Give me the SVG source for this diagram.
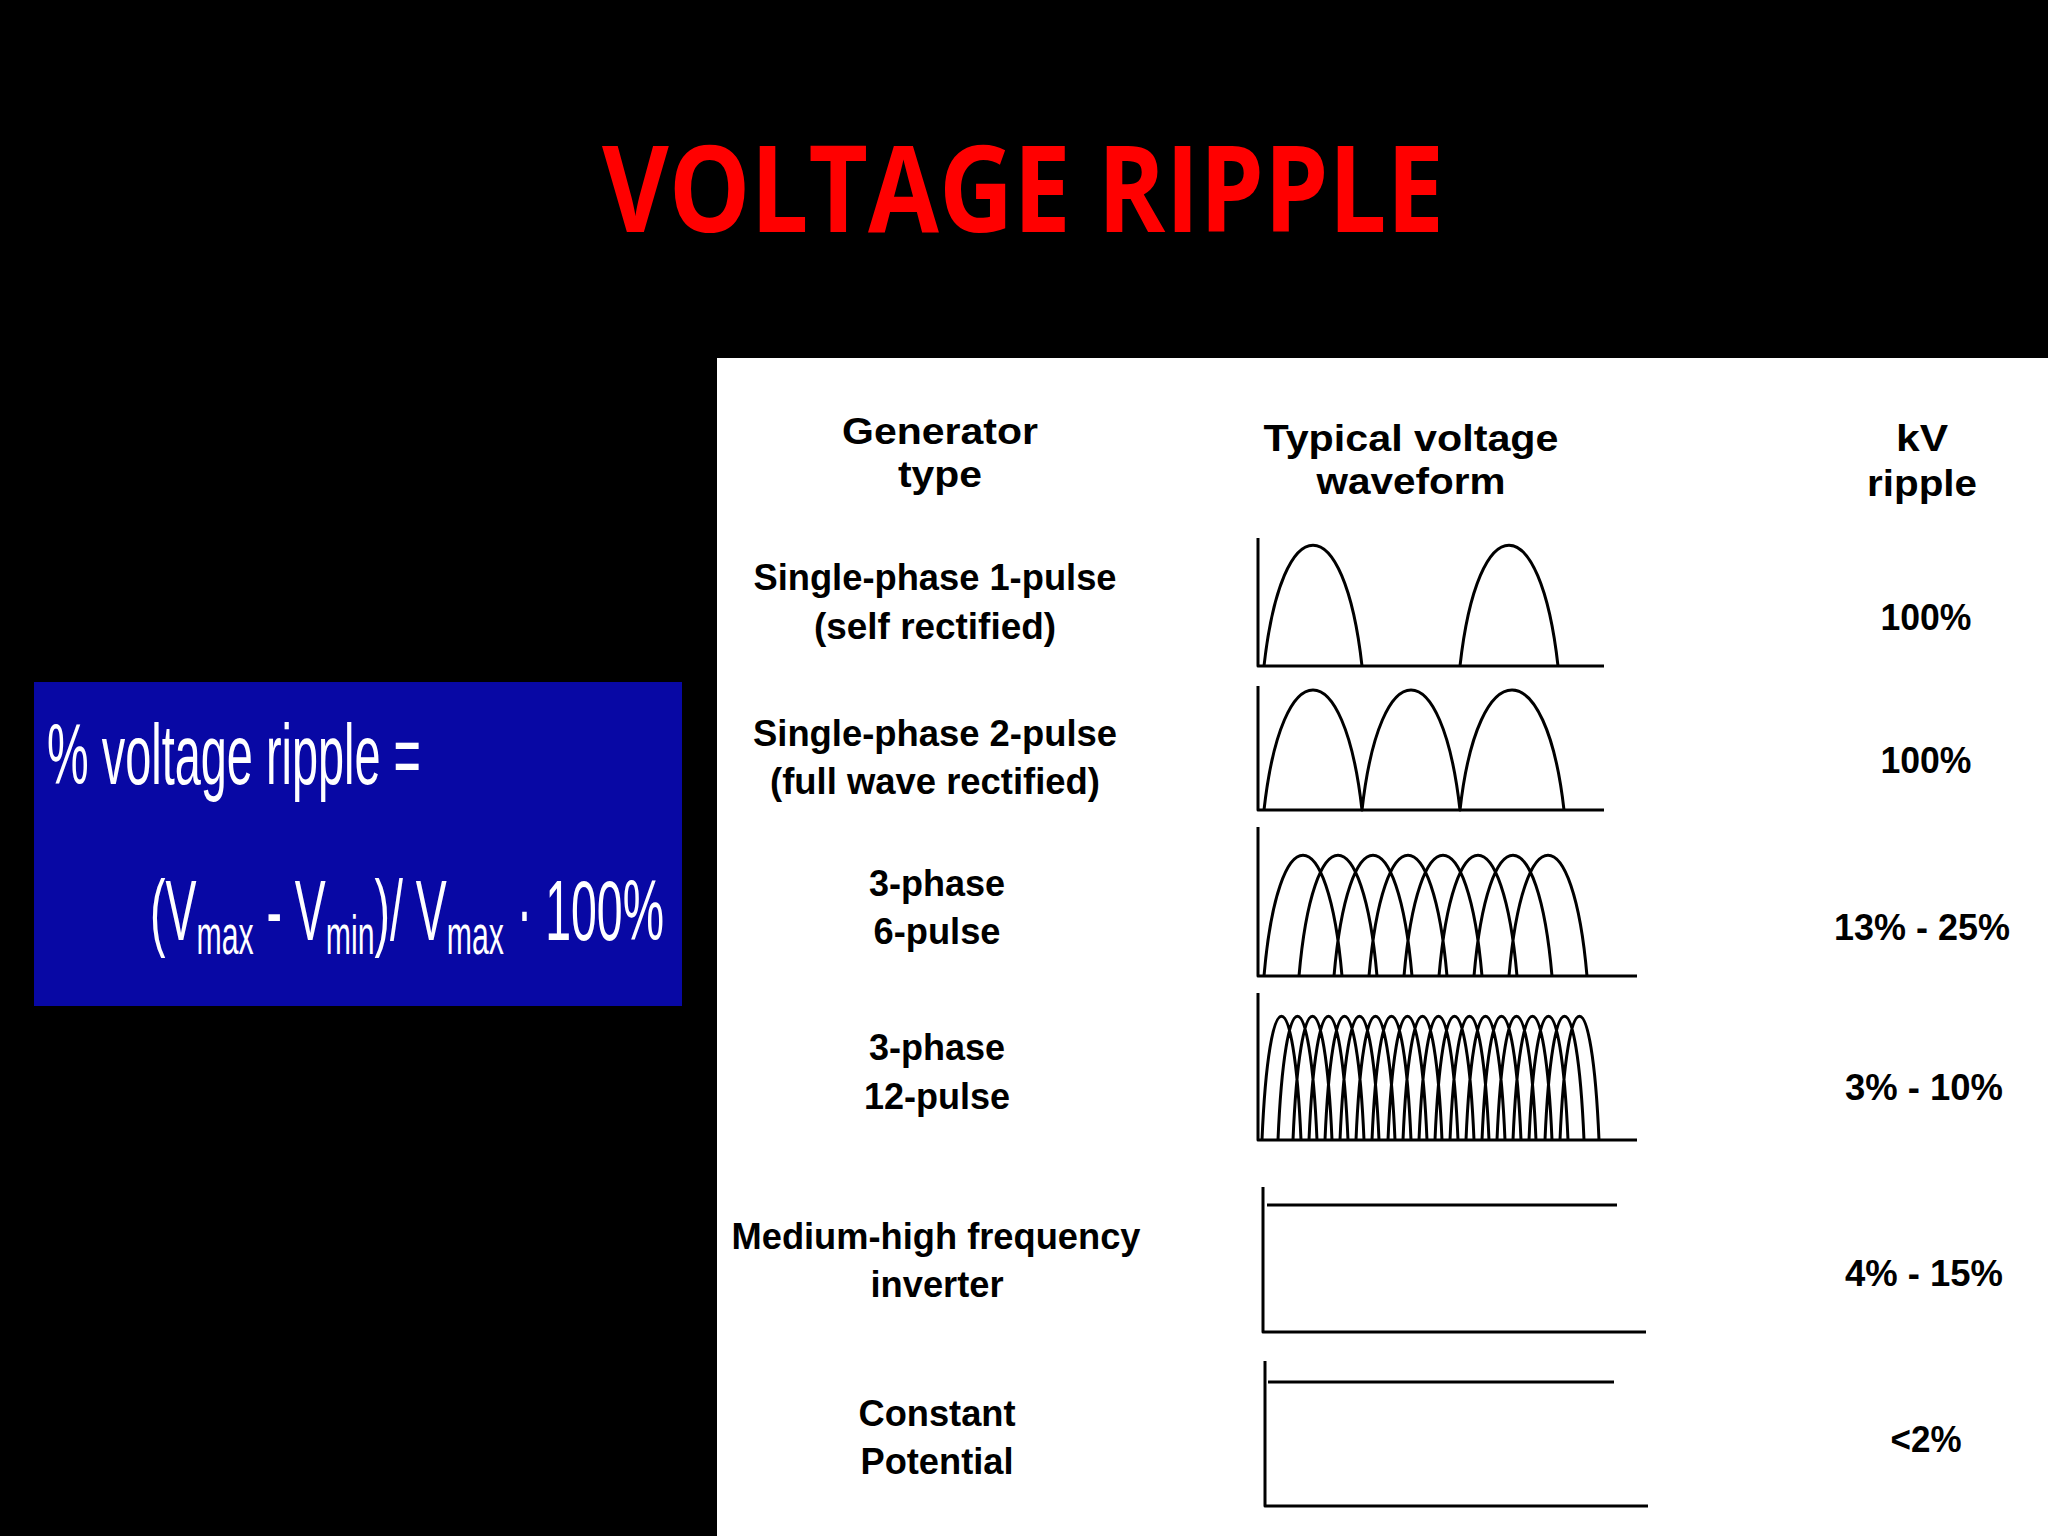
<svg xmlns="http://www.w3.org/2000/svg" width="2048" height="1536" viewBox="0 0 2048 1536">
<style>
.t{font-family:"Liberation Sans",Arial,sans-serif;font-weight:bold;font-size:36px;fill:#000;text-anchor:middle}
.w{fill:none;stroke:#000;stroke-width:3;stroke-linejoin:round}
.f{font-family:"Liberation Sans",Arial,sans-serif;fill:#fff}
</style>
<rect width="2048" height="1536" fill="#000"/>
<text x="1023" y="232" font-family="'Open Sans','Liberation Sans',sans-serif" font-weight="bold" font-size="120" fill="#f00" text-anchor="middle" textLength="842" lengthAdjust="spacingAndGlyphs">VOLTAGE RIPPLE</text>
<g id="formula">
<rect x="34" y="682" width="648" height="324" fill="#0808a4"/>
<text class="f" x="47" y="784" font-size="86" textLength="374" lengthAdjust="spacingAndGlyphs">% voltage ripple =</text>
<text class="f" x="150" y="940" font-size="86" textLength="514" lengthAdjust="spacingAndGlyphs">(V<tspan font-size="56" dy="14">max</tspan><tspan dy="-14"> - V</tspan><tspan font-size="56" dy="14">min</tspan><tspan dy="-14">)/ V</tspan><tspan font-size="56" dy="14">max</tspan><tspan dy="-14"> · 100%</tspan></text>
</g>
<g id="table">
<rect x="717" y="358" width="1331" height="1178" fill="#fff"/>
<text class="t" x="940" y="444" textLength="196" lengthAdjust="spacingAndGlyphs">Generator</text>
<text class="t" x="940" y="487" textLength="84" lengthAdjust="spacingAndGlyphs">type</text>
<text class="t" x="1411" y="451" textLength="295" lengthAdjust="spacingAndGlyphs">Typical voltage</text>
<text class="t" x="1411" y="494" textLength="189" lengthAdjust="spacingAndGlyphs">waveform</text>
<text class="t" x="1922" y="451" textLength="52" lengthAdjust="spacingAndGlyphs">kV</text>
<text class="t" x="1922" y="496" textLength="110" lengthAdjust="spacingAndGlyphs">ripple</text>
<text class="t" x="935" y="590" textLength="363" lengthAdjust="spacingAndGlyphs">Single-phase 1-pulse</text>
<text class="t" x="935" y="639" textLength="242" lengthAdjust="spacingAndGlyphs">(self rectified)</text>
<text class="t" x="935" y="746" textLength="364" lengthAdjust="spacingAndGlyphs">Single-phase 2-pulse</text>
<text class="t" x="935" y="794" textLength="330" lengthAdjust="spacingAndGlyphs">(full wave rectified)</text>
<text class="t" x="937" y="896" textLength="136" lengthAdjust="spacingAndGlyphs">3-phase</text>
<text class="t" x="937" y="944" textLength="127" lengthAdjust="spacingAndGlyphs">6-pulse</text>
<text class="t" x="937" y="1060" textLength="136" lengthAdjust="spacingAndGlyphs">3-phase</text>
<text class="t" x="937" y="1109" textLength="146" lengthAdjust="spacingAndGlyphs">12-pulse</text>
<text class="t" x="936" y="1249" textLength="409" lengthAdjust="spacingAndGlyphs">Medium-high frequency</text>
<text class="t" x="937" y="1297" textLength="133" lengthAdjust="spacingAndGlyphs">inverter</text>
<text class="t" x="937" y="1426" textLength="157" lengthAdjust="spacingAndGlyphs">Constant</text>
<text class="t" x="937" y="1474" textLength="153" lengthAdjust="spacingAndGlyphs">Potential</text>
<text class="t" x="1926" y="630" textLength="91" lengthAdjust="spacingAndGlyphs">100%</text>
<text class="t" x="1926" y="773" textLength="91" lengthAdjust="spacingAndGlyphs">100%</text>
<text class="t" x="1922" y="940" textLength="176" lengthAdjust="spacingAndGlyphs">13% - 25%</text>
<text class="t" x="1924" y="1100" textLength="158" lengthAdjust="spacingAndGlyphs">3% - 10%</text>
<text class="t" x="1924" y="1286" textLength="158" lengthAdjust="spacingAndGlyphs">4% - 15%</text>
<text class="t" x="1926" y="1452" textLength="71" lengthAdjust="spacingAndGlyphs">&lt;2%</text>
</g>
<g id="waveforms">
<path class="w" d="M1258 538V666H1604"/>
<path class="w" d="M1264 666C1282 505 1344 505 1362 666M1460 666C1478 505 1540 505 1558 666"/>
<path class="w" d="M1258 686V810H1604"/>
<path class="w" d="M1264 810C1282 650 1344 650 1362 810C1380 650 1442 650 1460 810C1478 650 1546 650 1564 810"/>
<path class="w" d="M1258 827V976H1637"/>
<path class="w" d="M1264 976C1278 815 1328 815 1342 976M1299 976C1313 815 1363 815 1377 976M1334 976C1348 815 1398 815 1412 976M1369 976C1383 815 1433 815 1447 976M1404 976C1418 815 1468 815 1482 976M1439 976C1453 815 1503 815 1517 976M1474 976C1488 815 1538 815 1552 976M1509 976C1523 815 1573 815 1587 976"/>
<path class="w" d="M1258 993V1140H1637"/>
<path class="w" stroke-width="2.5" d="M1262 1140C1269 975 1294 975 1301 1140M1278 1140C1285 975 1310 975 1317 1140M1293 1140C1300 975 1325 975 1332 1140M1309 1140C1316 975 1341 975 1348 1140M1325 1140C1332 975 1357 975 1364 1140M1340 1140C1347 975 1372 975 1379 1140M1356 1140C1363 975 1388 975 1395 1140M1372 1140C1379 975 1404 975 1411 1140M1388 1140C1395 975 1420 975 1427 1140M1403 1140C1410 975 1435 975 1442 1140M1419 1140C1426 975 1451 975 1458 1140M1435 1140C1442 975 1467 975 1474 1140M1450 1140C1457 975 1482 975 1489 1140M1466 1140C1473 975 1498 975 1505 1140M1482 1140C1489 975 1514 975 1521 1140M1497 1140C1504 975 1529 975 1536 1140M1513 1140C1520 975 1545 975 1552 1140M1529 1140C1536 975 1561 975 1568 1140M1545 1140C1552 975 1577 975 1584 1140M1560 1140C1567 975 1592 975 1599 1140"/>
<path class="w" d="M1263 1187V1332H1646"/>
<path class="w" stroke-width="6" d="M1267 1205H1617"/>
<path class="w" d="M1265 1361V1506H1648"/>
<path class="w" d="M1268 1382H1614"/>
</g>
</svg>
